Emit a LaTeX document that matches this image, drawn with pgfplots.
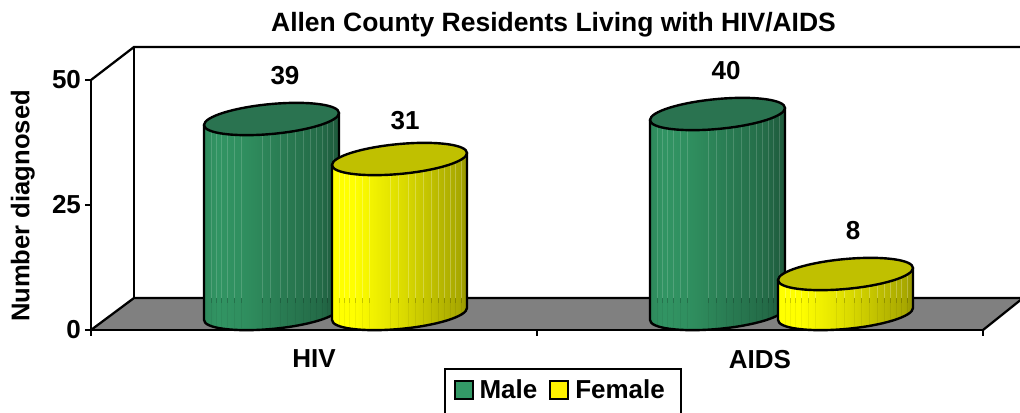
\documentclass[border=0pt]{standalone}
\usepackage{fontspec}
\setmainfont{Liberation Sans}
\usepackage{pgfplots}
\pgfplotsset{compat=1.18}
\definecolor{floorgray}{HTML}{808080}
\definecolor{gtop}{HTML}{2A7350}
\definecolor{ytop}{HTML}{C0C000}
\definecolor{gbox}{HTML}{339966}
\pgfdeclarehorizontalshading{greencyl}{100bp}{color(0bp)=(gbox!90!black); color(25bp)=(gbox!90!black); color(30bp)=(gbox!97!black); color(40bp)=(gbox!93!black); color(55bp)=(gbox!80!black); color(68bp)=(gbox!70!black); color(75bp)=(gbox!58!black); color(100bp)=(gbox!58!black)}
\pgfdeclarehorizontalshading{yellowcyl}{100bp}{color(0bp)=(yellow); color(25bp)=(yellow); color(33bp)=(yellow); color(50bp)=(yellow!87!black); color(65bp)=(yellow!72!black); color(72bp)=(yellow!66!black); color(75bp)=(yellow!58!black); color(100bp)=(yellow!58!black)}
\newcommand\cylpath{(-67.5,-6) -- (-67.5,{-6-\cylh}) .. controls (-67.5,{-14.285-\cylh}) and (-37.28,{-18.314-\cylh}) .. (0,{-15-\cylh}) .. controls (37.28,{-11.686-\cylh}) and (67.5,{-2.285-\cylh}) .. (67.5,{6-\cylh}) -- (67.5,6) -- cycle}
\newcommand\cyltop{(67.5,6) .. controls (67.5,14.285) and (37.28,18.314) .. (0,15) .. controls (-37.28,11.686) and (-67.5,2.285) .. (-67.5,-6) .. controls (-67.5,-14.285) and (-37.28,-18.314) .. (0,-15) .. controls (37.28,-11.686) and (67.5,-2.285) .. (67.5,6) -- cycle}
\newcommand\cylinder[4]{%
  \begin{scope}[x=.75pt,y=.75pt]
    \pgflowlevel{\pgftransformshift{\pgfpoint{#3*.75pt}{12pt}}}
    \pgfmathsetmacro\cylh{\cylval*5}
    \pgfmathsetmacro\cylf{16-\cylh}
    \path[shading=#1] \cylpath;
    \begin{scope}
      \clip \cylpath;
      \foreach \s in {-59.8,-54.8,-49.8,-43.8,-37.2,-29.8,-9.2,-1.5,8.5,16.2,23.8,31.8,38.5,45.2,50.8,56.2,61.8}{
        \draw[white,opacity=#4,line width=.5pt] (\s,\cylf) -- (\s,30);
        \draw[black,opacity=.06,line width=.5pt] (\s,\cylf-30) -- (\s,\cylf);
        \draw[black,opacity=.16,line width=.5pt] (\s,\cylf-5) -- (\s,\cylf);
      }
    \end{scope}
    \draw[line width=1.8pt,line join=round] \cylpath;
    \draw[line width=1.8pt,fill=#2] \cyltop;
  \end{scope}}
\pgfdeclareplotmark{cylm}{\cylinder{greencyl}{gtop}{-42.5}{.16}}
\pgfdeclareplotmark{cylf}{\cylinder{yellowcyl}{ytop}{85.5}{.25}}
\pgfplotstableread{
cat value
0 39
1 40
}\maletable
\pgfplotstableread{
cat value
0 31
1 8
}\femaletable
\newcommand\lab{\fontsize{19.5}{22}\bfseries\selectfont}
\begin{document}
\begin{tikzpicture}
\path[use as bounding box] (0,0) rectangle (765pt,309.75pt);
\begin{scope}[x=.75pt,y=-.75pt,yshift=309.75pt]
  \fill[floorgray] (91,330) -- (134,298) -- (1030,298) -- (1023,298) -- (983,330) -- cycle;
  \draw[line width=1.7pt] (91,80) -- (134,47) -- (1030,47);
  \draw[line width=1.7pt] (134,47) -- (134,298);
  \draw[line width=1.7pt] (91,330) -- (134,298) -- (1030,298);
  \draw[line width=1.7pt] (983,330) -- (1023,298);
  \draw[line width=1.7pt] (445,420) -- (445,369) -- (681,369) -- (681,420);
\end{scope}
\begin{axis}[
  at={(68.25pt,62.25pt)},anchor=south west,
  width=669pt,height=187.5pt,scale only axis,
  xmin=-0.5,xmax=1.5,ymin=0,ymax=50,clip=false,
  axis x line*=bottom,axis y line*=left,
  axis line style={line width=1.7pt},
  tick style={black,line width=1pt},
  tick align=outside,major tick length=4.5pt,
  xtick={-0.5,0.5,1.5},xticklabels={,,},
  extra x ticks={0,1},extra x tick labels={HIV,AIDS},
  extra x tick style={major tick length=0pt,tick style={draw=none},xticklabel style={yshift=-11.5pt}},
  ytick={0,25,50},
  /pgf/number format/assume math mode=true,
  tick label style={font=\lab},
  yticklabel style={xshift=.5pt},
  title={Allen County Residents Living with HIV/AIDS},
  title style={font=\fontsize{19.85}{22}\bfseries\selectfont,at={(rel axis cs:0.5185,1.228)},anchor=center,yshift=-7.5pt},
  ylabel={Number diagnosed},
  ylabel style={font=\fontsize{19.2}{22}\bfseries\selectfont,at={(rel axis cs:-0.0765,0.496)},anchor=center},
  legend columns=2,
  legend style={font=\lab,draw=none,fill=none,at={(rel axis cs:0.5268,-0.24)},anchor=center,
    /tikz/every even column/.append style={column sep=7pt}},
  scatter/@pre marker code/.code={},
  scatter/@post marker code/.code={},
  visualization depends on={rawy \as \cylval},
  nodes near coords,
  every node near coord/.append style={font=\lab,color=black,anchor=center},
]
\addplot[scatter,only marks,scatter src=y,mark=cylm,
  legend image code/.code={\draw[fill=gbox,line width=1.5pt] (0pt,-6.5pt) rectangle (13pt,6.5pt);\path (16pt,0pt);},
  every node near coord/.append style={yshift=44.5pt},
  coordinate style/.condition={\coordindex==0}{xshift=-21.75pt},
  coordinate style/.condition={\coordindex==1}{xshift=-25.5pt},
] table[x=cat,y=value] {\maletable};
\addlegendentry{Male}
\addplot[scatter,only marks,scatter src=y,mark=cylf,
  legend image code/.code={\draw[fill=yellow,line width=1.5pt] (0pt,-6.5pt) rectangle (13.5pt,6.5pt);\path (16.5pt,0pt);},
  coordinate style/.condition={\coordindex==0}{xshift=68.25pt,yshift=40.5pt},
  coordinate style/.condition={\coordindex==1}{xshift=69.75pt,yshift=44.25pt},
] table[x=cat,y=value] {\femaletable};
\addlegendentry{Female}
\end{axis}
\end{tikzpicture}
\end{document}
